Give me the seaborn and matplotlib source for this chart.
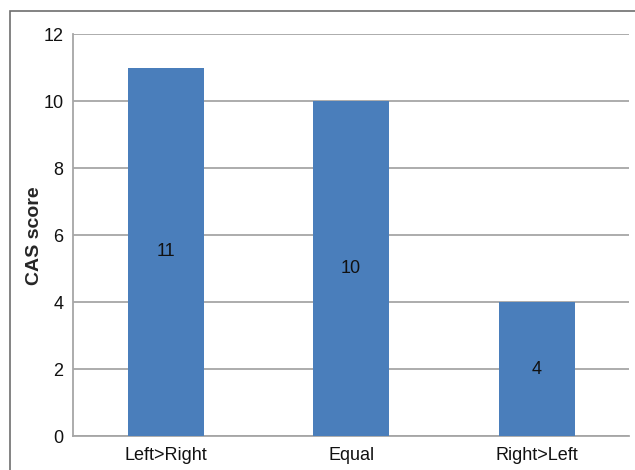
import pandas as pd
import seaborn as sns
import matplotlib.pyplot as plt
from matplotlib.patches import Rectangle

categories = ["Left>Right", "Equal", "Right>Left"]
scores = [11, 10, 4]
y_ticks = [0, 2, 4, 6, 8, 10, 12]

df = pd.DataFrame({"group": categories, "score": scores})

sns.set_theme(style="white")
plt.rcParams["font.family"] = ["Liberation Sans", "DejaVu Sans"]

fig = plt.figure(figsize=(6.35, 4.70), dpi=100)
ax = fig.add_axes([0.115, 0.072, 0.876, 0.855])

# outer frame (cut off at right and bottom like the original)
fig.patches.append(Rectangle((0.0157, -0.2), 1.2, 0.2 + 0.9766, transform=fig.transFigure,
                             fill=False, edgecolor="#6e6e6e", linewidth=1.2, zorder=0))

sns.barplot(data=df, x="group", y="score", color="#4a7ebb", saturation=1,
            width=0.41, linewidth=0, ax=ax, zorder=3)

for i, v in enumerate(scores):
    ax.text(i, v / 2, str(v), ha="center", va="center", fontsize=13, color="#111111", zorder=4)

ax.set_ylim(0, 12)
ax.set_xlim(-0.5, 2.5)
ax.set_yticks(y_ticks)
ax.yaxis.grid(True, color="#a6a6a6", linewidth=1.3)
ax.set_axisbelow(True)
ax.tick_params(axis="both", labelsize=13, colors="#111111", length=0, pad=8)
ax.tick_params(axis="y", length=5, color="#a6a6a6", direction="out", width=1.3, pad=2)
ax.set_xlabel("")
ax.set_ylabel("CAS score", fontsize=14, fontweight="bold", labelpad=0)
for s in ["top", "right"]:
    ax.spines[s].set_visible(False)
for s in ["left", "bottom"]:
    ax.spines[s].set_color("#a6a6a6")
    ax.spines[s].set_linewidth(1.3)

fig.savefig("out.png", dpi=100)
